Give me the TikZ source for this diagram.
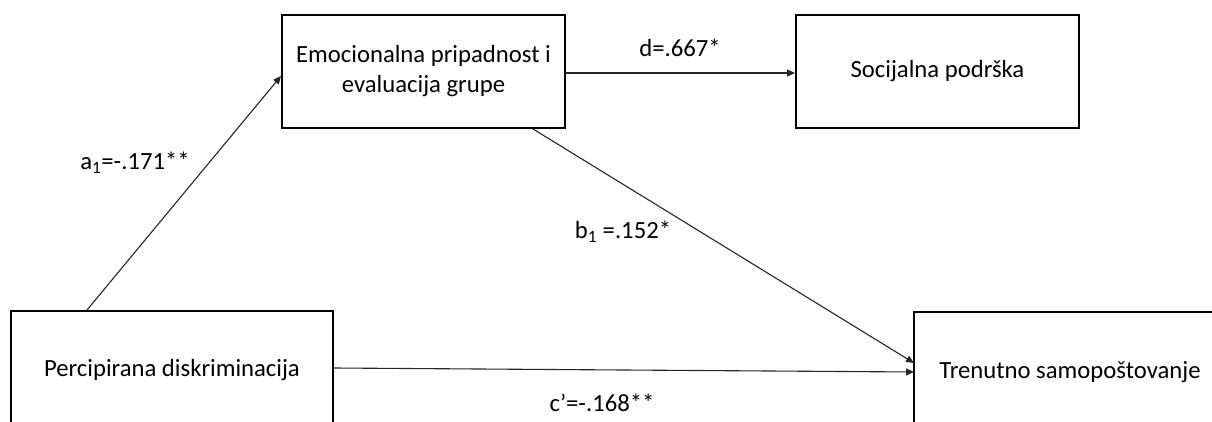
\documentclass[tikz,border=0pt]{standalone}
\usepackage{fontspec}
\setmainfont{Carlito}
\usetikzlibrary{arrows.meta}
\tikzset{every picture/.style={font issue=\fontsize{24.7}{30}},
         font issue/.style={execute at begin picture={#1\selectfont}},
         varbox/.style={draw, line width=2pt, align=center, inner sep=0pt},
         path/.style={draw=black!85, line width=1.1pt, -{Triangle[length=8pt, width=7pt]}}
        }

\begin{document}
\begin{tikzpicture}[x=1pt, y=1pt]
        \useasboundingbox (0, 0) rectangle (1212, 421);
        \clip (0, 0) rectangle (1212, 421);
        \node [varbox, minimum width=283, minimum height=113] (emoc) at (423.5, 349.5) {Emocionalna pripadnost i\\evaluacija grupe};
        \node [varbox, minimum width=283, minimum height=113] (soc) at (937.5, 349.5) {Socijalna podrška};
        \node [varbox, minimum width=322, minimum height=118] (percip) at (172, 51) {Percipirana diskriminacija};
        \node [varbox, draw=none, minimum width=310, minimum height=118] (samo) at (1070, 49) {Trenutno samopoštovanje};
        \draw [line width=2pt] (samo.south west) -- (samo.north west) -- ([xshift=40pt]samo.north east);
        \draw [path] ([xshift=77pt]percip.north west) -- ([yshift=-4.5pt]emoc.west);
        \draw [path] ([yshift=-1.5pt]emoc.east) -- ([yshift=-1.5pt]soc.west);
        \draw [path] ([xshift=109.5pt]emoc.south) -- ([yshift=9pt]samo.west);
        \draw [path] ([yshift=2pt]percip.east) -- (samo.west);
        \node (a1) at (135, 258) {a\textsubscript{1}=-.171**};
        \node (d) at (680, 373) {d=.667*};
        \node (b1) at (623, 189) {b\textsubscript{1} =.152*};
        \node (c) at (602, 18) {c’=-.168**};
      \end{tikzpicture}
\end{document}
